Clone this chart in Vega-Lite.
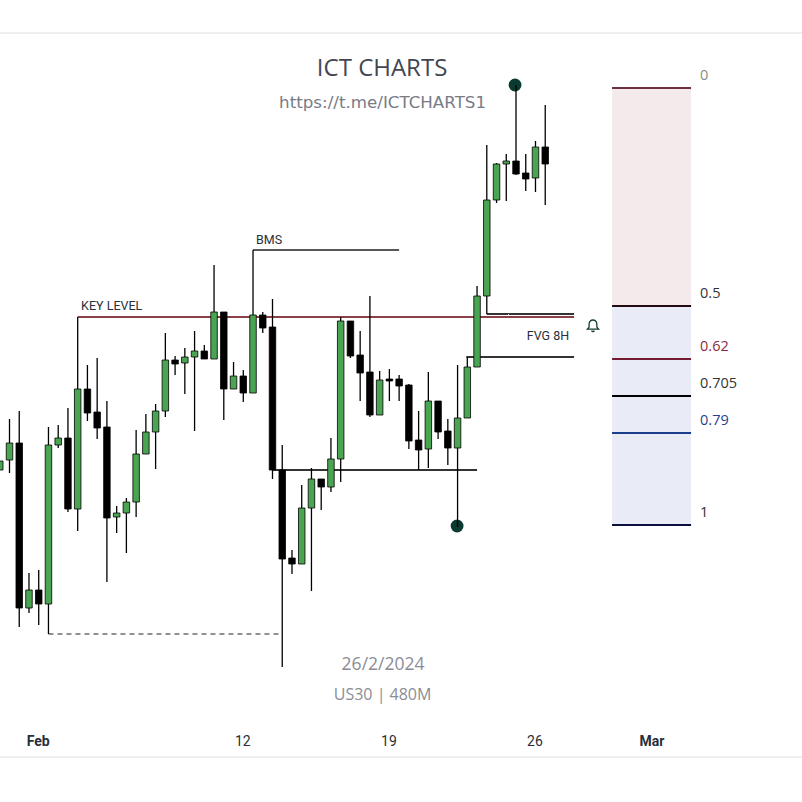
{
  "$schema": "https://vega.github.io/schema/vega-lite/v6.json",
  "width": 802,
  "height": 802,
  "autosize": {"type": "none"},
  "padding": 0,
  "background": "white",
  "config": {"view": {"stroke": null}},
  "datasets": {
    "candles": [
      {"i":0,"open":38460,"high":38478,"low":38460,"close":38478},
      {"i":1,"open":38480,"high":38562,"low":38454,"close":38514},
      {"i":2,"open":38514,"high":38578,"low":38146,"close":38184},
      {"i":3,"open":38184,"high":38254,"low":38174,"close":38220},
      {"i":4,"open":38220,"high":38260,"low":38150,"close":38192},
      {"i":5,"open":38192,"high":38546,"low":38132,"close":38510},
      {"i":6,"open":38510,"high":38550,"low":38504,"close":38524},
      {"i":7,"open":38524,"high":38584,"low":38376,"close":38382},
      {"i":8,"open":38382,"high":38766,"low":38338,"close":38622},
      {"i":9,"open":38622,"high":38670,"low":38558,"close":38574},
      {"i":10,"open":38576,"high":38684,"low":38522,"close":38544},
      {"i":11,"open":38546,"high":38598,"low":38236,"close":38364},
      {"i":12,"open":38366,"high":38388,"low":38334,"close":38374},
      {"i":13,"open":38374,"high":38404,"low":38294,"close":38396},
      {"i":14,"open":38396,"high":38540,"low":38366,"close":38492},
      {"i":15,"open":38492,"high":38572,"low":38492,"close":38536},
      {"i":16,"open":38536,"high":38592,"low":38462,"close":38578},
      {"i":17,"open":38578,"high":38734,"low":38566,"close":38680},
      {"i":18,"open":38680,"high":38688,"low":38650,"close":38672},
      {"i":19,"open":38674,"high":38704,"low":38612,"close":38686},
      {"i":20,"open":38686,"high":38738,"low":38538,"close":38698},
      {"i":21,"open":38698,"high":38710,"low":38682,"close":38682},
      {"i":22,"open":38682,"high":38870,"low":38682,"close":38776},
      {"i":23,"open":38776,"high":38776,"low":38560,"close":38622},
      {"i":24,"open":38622,"high":38676,"low":38622,"close":38648},
      {"i":25,"open":38648,"high":38660,"low":38596,"close":38614},
      {"i":26,"open":38614,"high":38900,"low":38614,"close":38770},
      {"i":27,"open":38770,"high":38776,"low":38734,"close":38744},
      {"i":28,"open":38746,"high":38802,"low":38442,"close":38460},
      {"i":29,"open":38460,"high":38510,"low":38066,"close":38282},
      {"i":30,"open":38284,"high":38300,"low":38252,"close":38272},
      {"i":31,"open":38272,"high":38430,"low":38272,"close":38384},
      {"i":32,"open":38384,"high":38464,"low":38218,"close":38442},
      {"i":33,"open":38442,"high":38442,"low":38380,"close":38426},
      {"i":34,"open":38426,"high":38524,"low":38416,"close":38482},
      {"i":35,"open":38482,"high":38766,"low":38436,"close":38758},
      {"i":36,"open":38758,"high":38758,"low":38684,"close":38688},
      {"i":37,"open":38690,"high":38738,"low":38598,"close":38654},
      {"i":38,"open":38656,"high":38808,"low":38566,"close":38570},
      {"i":39,"open":38570,"high":38658,"low":38570,"close":38640},
      {"i":40,"open":38642,"high":38662,"low":38598,"close":38638},
      {"i":41,"open":38642,"high":38650,"low":38598,"close":38628},
      {"i":42,"open":38630,"high":38632,"low":38502,"close":38518},
      {"i":43,"open":38520,"high":38578,"low":38460,"close":38500},
      {"i":44,"open":38502,"high":38656,"low":38464,"close":38598},
      {"i":45,"open":38598,"high":38598,"low":38522,"close":38536},
      {"i":46,"open":38538,"high":38562,"low":38470,"close":38504},
      {"i":47,"open":38504,"high":38670,"low":38346,"close":38564},
      {"i":48,"open":38564,"high":38686,"low":38564,"close":38666},
      {"i":49,"open":38666,"high":38828,"low":38666,"close":38808},
      {"i":50,"open":38808,"high":39110,"low":38772,"close":39000},
      {"i":51,"open":39000,"high":39074,"low":38994,"close":39072},
      {"i":52,"open":39072,"high":39092,"low":38998,"close":39078},
      {"i":53,"open":39078,"high":39230,"low":39050,"close":39052},
      {"i":54,"open":39054,"high":39092,"low":39018,"close":39042},
      {"i":55,"open":39044,"high":39118,"low":39016,"close":39106},
      {"i":56,"open":39106,"high":39190,"low":38990,"close":39072}
    ],
    "lines": [
      {"kind":"frame","i":0,"i2":82.4,"price":39334},
      {"kind":"frame","i":0,"i2":82.4,"price":37886},
      {"kind":"key","i":8,"i2":58.96,"price":38766},
      {"kind":"bms","i":26,"i2":41,"price":38900},
      {"kind":"level","i":28,"i2":49,"price":38460},
      {"kind":"level","i":50,"i2":58.96,"price":38772},
      {"kind":"level","i":47.9,"i2":58.96,"price":38686},
      {"kind":"sweep","i":5,"i2":29,"price":38132}
    ],
    "zones": [
      {"zone":"upper","i":62.86,"i2":70.97,"top":39224,"bottom":38788},
      {"zone":"lower","i":62.86,"i2":70.97,"top":38788,"bottom":38350}
    ],
    "fib": [
      {"level":"0","i":62.86,"i2":70.97,"price":39224},
      {"level":"0.5","i":62.86,"i2":70.97,"price":38788},
      {"level":"0.62","i":62.86,"i2":70.97,"price":38682},
      {"level":"0.705","i":62.86,"i2":70.97,"price":38608},
      {"level":"0.79","i":62.86,"i2":70.97,"price":38534},
      {"level":"1","i":62.86,"i2":70.97,"price":38350}
    ],
    "swings": [
      {"i":52.9,"price":39230},
      {"i":46.95,"price":38348}
    ],
    "alerts": [
      {"i":60.9,"price":38748}
    ],
    "notes": [
      {"kind":"title","i":39.25,"price":39262,"label":"ICT CHARTS"},
      {"kind":"sub","i":39.3,"price":39194,"label":"https://t.me/ICTCHARTS1"},
      {"kind":"date","i":39.35,"price":38070,"label":"26/2/2024"},
      {"kind":"caption","i":39.3,"price":38010,"label":"US30 | 480M"},
      {"kind":"tag","i":8.35,"price":38788,"label":"KEY LEVEL"},
      {"kind":"tag","i":26.3,"price":38920,"label":"BMS"},
      {"kind":"tag","i":54.1,"price":38728,"label":"FVG 8H"}
    ]
  },
  "encoding": {
    "x": {
      "field": "i",
      "type": "quantitative",
      "scale": {"domain": [0.0246, 82.36], "nice": false, "zero": false, "padding": 0},
      "axis": {
        "title": null,
        "values": [4, 25, 40, 55, 67],
        "labelExpr": "datum.value == 4 ? 'Feb' : datum.value == 25 ? '12' : datum.value == 40 ? '19' : datum.value == 55 ? '26' : 'Mar'",
        "orient": "bottom",
        "offset": -68,
        "domain": false,
        "ticks": false,
        "grid": false,
        "labelPadding": 0,
        "labelOffset": -1,
        "labelFont": "Roboto",
        "labelFontSize": 14,
        "labelFontWeight": {
          "condition": {"test": "datum.value == 4 || datum.value == 67", "value": "bold"},
          "value": "normal"
        },
        "labelColor": "#2a2e39",
        "labelBound": false,
        "labelFlush": false,
        "labelOverlap": false
      }
    },
    "y": {
      "field": "price",
      "type": "quantitative",
      "scale": {"domain": [37796, 39400], "nice": false, "zero": false},
      "axis": null
    }
  },
  "layer": [
    {
      "data": {"name": "zones"},
      "mark": {"type": "rect", "clip": true},
      "encoding": {
        "x2": {"field": "i2"},
        "y": {"field": "top", "type": "quantitative", "axis": null},
        "y2": {"field": "bottom"},
        "color": {
          "field": "zone",
          "type": "nominal",
          "legend": null,
          "scale": {"domain": ["upper", "lower"], "range": ["#f4eaeb", "#e9ecf6"]}
        }
      }
    },
    {
      "data": {"name": "fib"},
      "mark": {"type": "rule", "strokeWidth": 2, "clip": true},
      "encoding": {
        "x2": {"field": "i2"},
        "color": {
          "field": "level",
          "type": "nominal",
          "legend": null,
          "scale": {
            "domain": ["0", "0.5", "0.62", "0.705", "0.79", "1"],
            "range": ["#6e2f3c", "#220a12", "#751a33", "#000000", "#1a3d8c", "#0a0f40"]
          }
        }
      }
    },
    {
      "data": {"name": "lines"},
      "mark": {"type": "rule", "clip": true},
      "encoding": {
        "x2": {"field": "i2"},
        "color": {
          "field": "kind",
          "type": "nominal",
          "legend": null,
          "scale": {
            "domain": ["frame", "key", "bms", "level", "sweep"],
            "range": ["#eeeeee", "#8c3f49", "#222222", "#333333", "#222222"]
          }
        },
        "size": {
          "field": "kind",
          "type": "nominal",
          "legend": null,
          "scale": {
            "type": "ordinal",
            "domain": ["frame", "key", "bms", "level", "sweep"],
            "range": [2, 2, 1.5, 2, 1]
          }
        },
        "strokeDash": {
          "field": "kind",
          "type": "nominal",
          "legend": null,
          "scale": {
            "domain": ["frame", "key", "bms", "level", "sweep"],
            "range": [[1, 0], [1, 0], [1, 0], [1, 0], [5, 4]]
          }
        }
      }
    },
    {
      "data": {"name": "swings"},
      "mark": {"type": "circle", "size": 165, "opacity": 1, "color": "#0b3a30", "clip": true}
    },
    {
      "data": {"name": "candles"},
      "mark": {"type": "rule", "color": "#000000", "strokeWidth": 1.3, "clip": true},
      "encoding": {
        "y": {"field": "low", "type": "quantitative", "axis": null},
        "y2": {"field": "high"}
      }
    },
    {
      "data": {"name": "candles"},
      "mark": {"type": "bar", "size": 6.5, "stroke": "#000000", "strokeWidth": 0.8, "clip": true},
      "encoding": {
        "y": {"field": "open", "type": "quantitative", "axis": null},
        "y2": {"field": "close"},
        "color": {
          "condition": {"test": "datum.close > datum.open", "value": "#4aa552"},
          "value": "#000000"
        }
      }
    },
    {
      "data": {"name": "alerts"},
      "mark": {
        "type": "point",
        "filled": false,
        "size": 200,
        "opacity": 1,
        "stroke": "#0b3a30",
        "strokeWidth": 1.3,
        "shape": "M-0.8,0.45 L-0.55,0.15 L-0.55,-0.25 C-0.55,-0.65 -0.25,-0.85 0,-0.85 C0.25,-0.85 0.55,-0.65 0.55,-0.25 L0.55,0.15 L0.8,0.45 Z M-0.2,0.65 C-0.1,0.85 0.1,0.85 0.2,0.65"
      }
    },
    {
      "data": {"name": "fib"},
      "mark": {"type": "text", "align": "left", "baseline": "middle", "dx": 88, "dy": -12, "font": "Open Sans", "fontSize": 14.5},
      "encoding": {
        "text": {"field": "level"},
        "color": {
          "field": "level",
          "type": "nominal",
          "legend": null,
          "scale": {
            "domain": ["0", "0.5", "0.62", "0.705", "0.79", "1"],
            "range": ["#8a8a8a", "#333333", "#8b2c3f", "#333333", "#1f3f8f", "#333333"]
          }
        }
      }
    },
    {
      "data": {"name": "notes"},
      "transform": [{"filter": "datum.kind == 'title'"}],
      "mark": {"type": "text", "baseline": "middle", "font": "Open Sans", "fontSize": 24, "color": "#434651"},
      "encoding": {"text": {"field": "label"}}
    },
    {
      "data": {"name": "notes"},
      "transform": [{"filter": "datum.kind == 'sub'"}],
      "mark": {"type": "text", "baseline": "middle", "font": "DejaVu Sans", "fontSize": 16.7, "color": "#787b86"},
      "encoding": {"text": {"field": "label"}}
    },
    {
      "data": {"name": "notes"},
      "transform": [{"filter": "datum.kind == 'date'"}],
      "mark": {"type": "text", "baseline": "middle", "font": "Open Sans", "fontSize": 17.5, "color": "#8a8d96"},
      "encoding": {"text": {"field": "label"}}
    },
    {
      "data": {"name": "notes"},
      "transform": [{"filter": "datum.kind == 'caption'"}],
      "mark": {"type": "text", "baseline": "middle", "font": "Open Sans", "fontSize": 16, "color": "#8a8d96"},
      "encoding": {"text": {"field": "label"}}
    },
    {
      "data": {"name": "notes"},
      "transform": [{"filter": "datum.kind == 'tag'"}],
      "mark": {"type": "text", "align": "left", "baseline": "middle", "font": "Roboto", "fontSize": 12.5, "color": "#2a2e39"},
      "encoding": {"text": {"field": "label"}}
    }
  ],
  "resolve": {"scale": {"color": "independent"}}
}
